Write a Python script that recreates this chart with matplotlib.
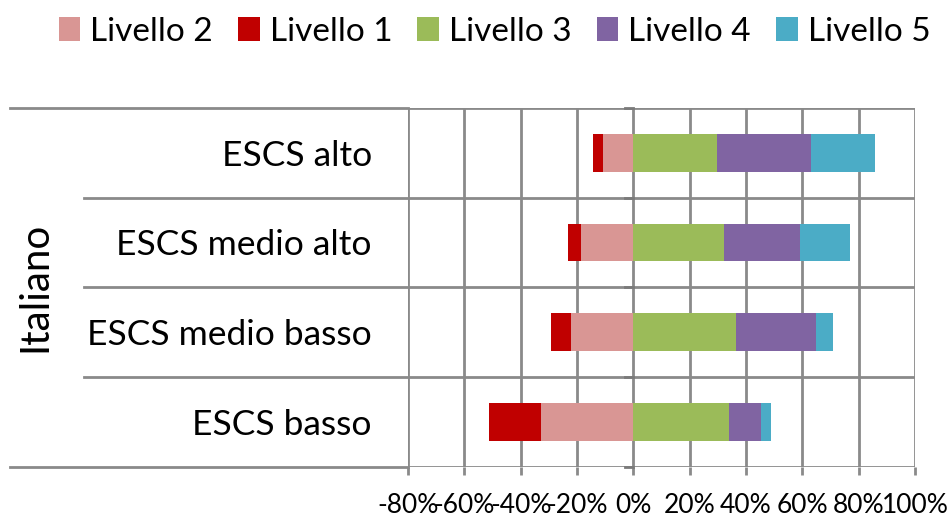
import numpy as np
import matplotlib
matplotlib.use("Agg")
import matplotlib.pyplot as plt
from matplotlib.ticker import FuncFormatter

plt.rcParams['font.family'] = ['Lato', 'DejaVu Sans']

# Data (percentages)
categories = ["ESCS alto", "ESCS medio alto", "ESCS medio basso", "ESCS basso"]
group_label = "Italiano"
livello1 = [3.4, 4.4, 7.0, 18.5]
livello2 = [10.9, 18.7, 22.2, 32.7]
livello3 = [29.7, 32.3, 36.6, 34.0]
livello4 = [33.2, 27.0, 28.1, 11.3]
livello5 = [22.9, 17.7, 6.2, 3.5]
xticks = [-80, -60, -40, -20, 0, 20, 40, 60, 80, 100]

colors = {"Livello 1": "#C00000", "Livello 2": "#D99694", "Livello 3": "#9BBB59",
          "Livello 4": "#8064A2", "Livello 5": "#4BACC6"}
grid_c = "#8A8A8A"
lw = 2.0

fig = plt.figure(figsize=(9.51, 5.25), dpi=100)
ax = fig.add_axes([408 / 951, 1 - 466.5 / 525, 507 / 951, 358.5 / 525])

y = np.arange(len(categories))[::-1]
l1 = np.array(livello1)
l2 = np.array(livello2)
l3 = np.array(livello3)
l4 = np.array(livello4)
l5 = np.array(livello5)
h = 0.42

b2 = ax.barh(y, -l2, height=h, color=colors["Livello 2"], label="Livello 2", zorder=3)
b1 = ax.barh(y, -l1, left=-l2, height=h, color=colors["Livello 1"], label="Livello 1", zorder=3)
b3 = ax.barh(y, l3, height=h, color=colors["Livello 3"], label="Livello 3", zorder=3)
b4 = ax.barh(y, l4, left=l3, height=h, color=colors["Livello 4"], label="Livello 4", zorder=3)
b5 = ax.barh(y, l5, left=l3 + l4, height=h, color=colors["Livello 5"], label="Livello 5", zorder=3)

ax.set_xlim(-80, 100)
ax.set_ylim(-0.5, len(categories) - 0.5)
ax.set_xticks(xticks)
ax.xaxis.set_major_formatter(FuncFormatter(lambda v, p: f"{v:.0f}%"))
ax.tick_params(axis='x', direction='out', length=6, width=lw, color=grid_c,
               labelsize=19, pad=13)
ax.set_yticks(y)
ax.set_yticklabels(categories, fontsize=25.5)
ax.tick_params(axis='y', length=0, pad=26)

# grid
for xv in xticks:
    ax.axvline(xv, color=grid_c, lw=lw, zorder=1)
for yv in np.arange(-0.5, len(categories), 1.0):
    ax.axhline(yv, color=grid_c, lw=lw, zorder=1)
    ax.plot([-2.8, 0], [yv, yv], color="#7A7A7A", lw=lw, zorder=2, clip_on=False)
for s in ax.spines.values():
    s.set_visible(False)

# category area lines
tr = ax.get_yaxis_transform()
for yv in np.arange(0.5, len(categories) - 1, 1.0):
    ax.plot([-0.639, 0], [yv, yv], color=grid_c, lw=lw, transform=tr, clip_on=False)
for yv in [-0.5, len(categories) - 0.5]:
    ax.plot([-0.785, 0], [yv, yv], color=grid_c, lw=lw, transform=tr, clip_on=False)

ax.text(-0.736, (len(categories) - 1) / 2, group_label, rotation=90, fontsize=29,
        ha='center', va='center', transform=tr)

handles = [b2, b1, b3, b4, b5]
fig.legend(handles, [hd.get_label() for hd in handles], loc='upper center',
           bbox_to_anchor=(0.52, 1.025), ncol=5, frameon=False, fontsize=24,
           handlelength=0.65, handleheight=0.75, handletextpad=0.3, columnspacing=0.75)

fig.savefig("out.png", dpi=100)
